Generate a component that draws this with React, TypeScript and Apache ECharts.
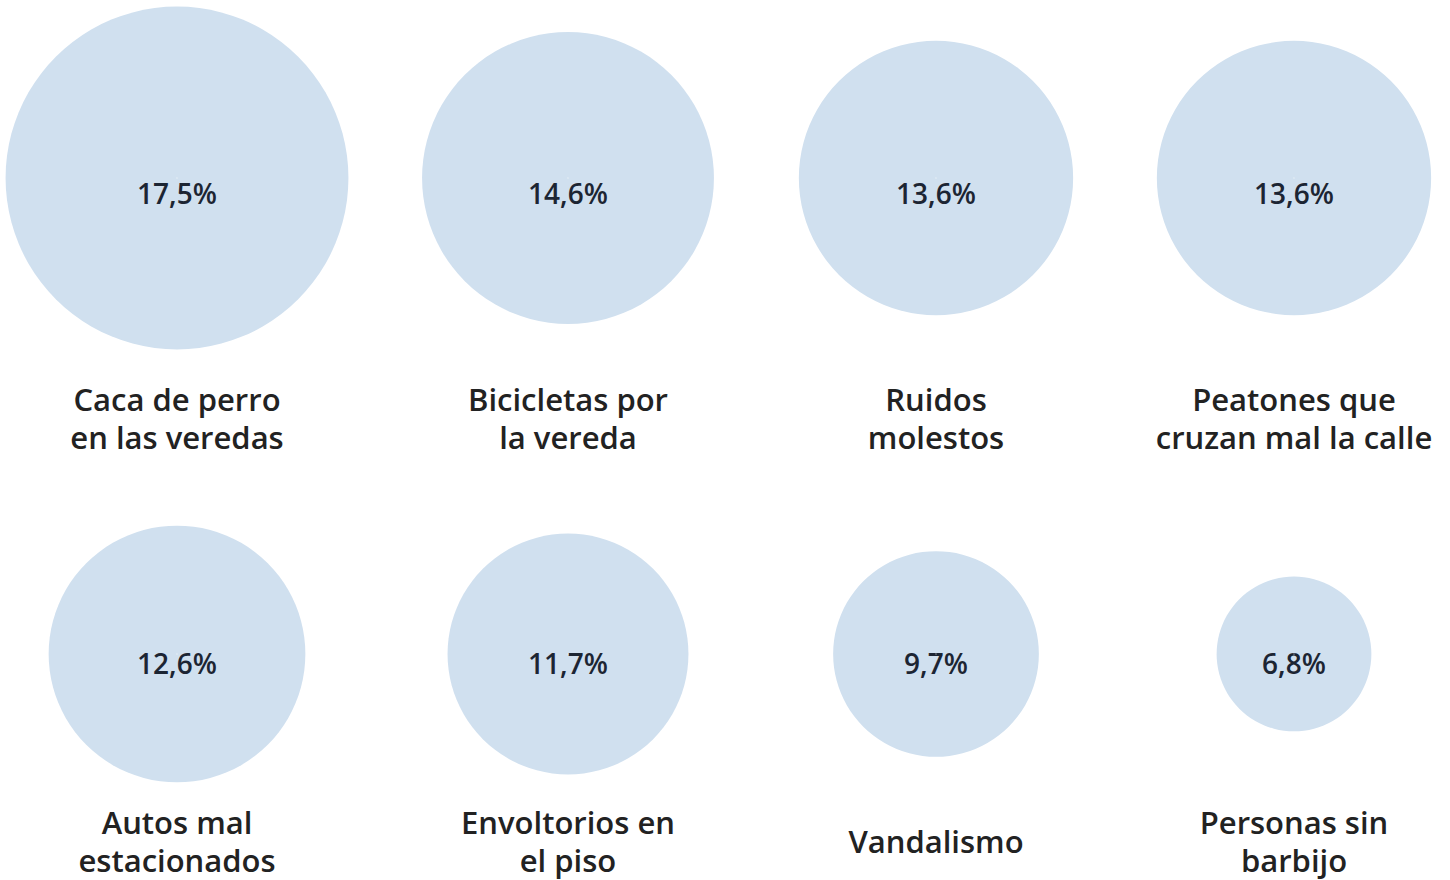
import React, { useEffect, useRef } from "react";
import * as echarts from "echarts";

const categories = [
  "Caca de perro\nen las veredas",
  "Bicicletas por\nla vereda",
  "Ruidos\nmolestos",
  "Peatones que\ncruzan mal la calle",
  "Autos mal\nestacionados",
  "Envoltorios en\nel piso",
  "Vandalismo",
  "Personas sin\nbarbijo",
];
const values = [17.5, 14.6, 13.6, 13.6, 12.6, 11.7, 9.7, 6.8];
const rowNames = ["fila1", "fila2"];

const COLUMN_CENTERS = [177, 568, 936, 1294];
const CIRCLE_COLOR = "#d0e0ef";
const TEXT_COLOR = "#222222";
const VALUE_COLOR = "#1c2533";
const FONT = "'Open Sans', 'Noto Sans', sans-serif";

// diameter from value (linear scale)
const diameterOf = (v: number) => 2 * (17.6 + 8.79 * v);
const fmt = (v: number) => v.toFixed(1).replace(".", ",") + "%";

export default function App() {
  const ref = useRef<HTMLDivElement>(null);
  useEffect(() => {
    if (!ref.current) return;
    const chart = echarts.init(ref.current, undefined, { renderer: "svg" });
    const nCols = COLUMN_CENTERS.length;
    const grids = COLUMN_CENTERS.map((cx) => ({
      left: cx - 100,
      width: 200,
      top: 178,
      height: 476,
    }));
    const xAxes = COLUMN_CENTERS.map((_, c) => ({
      type: "category",
      gridIndex: c,
      data: ["c"],
      show: false,
    }));
    const yAxes = COLUMN_CENTERS.map((_, c) => ({
      type: "category",
      gridIndex: c,
      data: rowNames,
      inverse: true,
      boundaryGap: false,
      show: false,
    }));
    const series: any[] = [];
    for (let c = 0; c < nCols; c++) {
      const idx = values.map((_, i) => i).filter((i) => i % nCols === c);
      series.push({
        type: "scatter",
        xAxisIndex: c,
        yAxisIndex: c,
        silent: true,
        z: 2,
        data: idx.map((i) => {
          const r = Math.floor(i / nCols);
          return {
            name: categories[i],
            value: [0, r],
            symbolSize: diameterOf(values[i]),
            label: { offset: [0, r === 0 ? 15 : 9] },
          };
        }),
        symbol: "circle",
        itemStyle: { color: CIRCLE_COLOR, opacity: 1 },
        label: {
          show: true,
          position: "inside",
          formatter: (p: any) => fmt(values[idx[p.dataIndex]]),
          color: VALUE_COLOR,
          textBorderWidth: 0,
          fontFamily: FONT,
          fontSize: 28,
          fontWeight: 600,
        },
      });
      series.push({
        type: "scatter",
        xAxisIndex: c,
        yAxisIndex: c,
        silent: true,
        z: 3,
        symbolSize: 1,
        data: idx.map((i) => {
          const r = Math.floor(i / nCols);
          return {
            name: categories[i],
            value: [0, r],
            label: { offset: [0, r === 0 ? 240 : 187] },
          };
        }),
        itemStyle: { color: "#ffffff", opacity: 1 },
        label: {
          show: true,
          position: "inside",
          formatter: (p: any) => p.name,
          color: TEXT_COLOR,
          opacity: 1,
          textBorderWidth: 0,
          fontFamily: FONT,
          fontSize: 31,
          fontWeight: 600,
          lineHeight: 38,
          align: "center",
        },
      });
    }
    chart.setOption({
      animation: false,
      backgroundColor: "#ffffff",
      grid: grids,
      xAxis: xAxes,
      yAxis: yAxes,
      series,
    });
    return () => chart.dispose();
  }, []);
  return (
    <div
      ref={ref}
      style={{ position: "fixed", left: 0, top: 0, width: 1450, height: 880 }}
    />
  );
}
